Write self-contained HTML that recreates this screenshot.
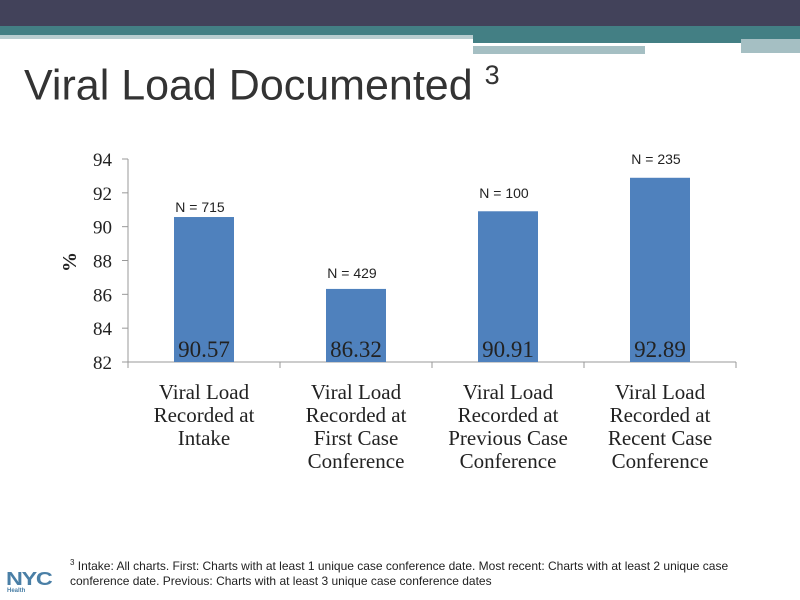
<!DOCTYPE html>
<html><head><meta charset="utf-8"><style>
body{margin:0;width:800px;height:600px;position:relative;background:#fff;overflow:hidden;font-family:"Liberation Sans",sans-serif}
.abs{position:absolute}
</style></head><body>
<div class="abs" style="left:0;top:0;width:800px;height:26px;background:#42425a"></div>
<div class="abs" style="left:0;top:26px;width:800px;height:9px;background:#437f84"></div>
<div class="abs" style="left:0;top:35px;width:473px;height:4px;background:#b9cdd0"></div>
<div class="abs" style="left:473px;top:35px;width:327px;height:8px;background:#437f84"></div>
<div class="abs" style="left:473px;top:46px;width:172px;height:8px;background:#a5bfc3"></div>
<div class="abs" style="left:741px;top:39px;width:59px;height:14px;background:#a5bfc3"></div>
<div class="abs" style="left:24px;top:60px;font-size:43px;color:#333">Viral Load Documented <sup style="font-size:27px">3</sup></div>
<svg class="abs" style="left:0;top:0" width="800" height="600">
<g id="g"></g>
</svg>
<div class="abs" style="left:70px;top:555px;width:700px;font-size:12px;line-height:15px;color:#222"><sup style="font-size:8px">3</sup> Intake: All charts. First: Charts with at least 1 unique case conference date. Most recent: Charts with at least 2 unique case conference date. Previous: Charts with at least 3 unique case conference dates</div>
<div class="abs" style="left:6px;top:569px;font:900 18px 'Liberation Sans',sans-serif;color:#4a7fa6;letter-spacing:-1px;transform:scaleX(1.3);transform-origin:left">NYC</div>
<div class="abs" style="left:7px;top:588px;font:bold 6px 'Liberation Sans',sans-serif;color:#4a7fa6">Health</div>
<script>
const categories=[["Viral Load","Recorded at","Intake"],["Viral Load","Recorded at","First Case","Conference"],["Viral Load","Recorded at","Previous Case","Conference"],["Viral Load","Recorded at","Recent Case","Conference"]];
const values=[90.57,86.32,90.91,92.89];
const nLabels=["N = 715","N = 429","N = 100","N = 235"];
const nValues=[90.87,86.96,91.69,93.7];
const ticks=[82,84,86,88,90,92,94];
const g=document.getElementById('g');const NS='http://www.w3.org/2000/svg';
const y=v=>362-(v-82)*(203/12);const x=i=>204+i*152;
function mk(t,a,txt){const e=document.createElementNS(NS,t);for(const k in a)e.setAttribute(k,a[k]);if(txt!=null)e.textContent=txt;g.appendChild(e);return e;}
let ax=mk('line',{x1:128,x2:128,y1:159,y2:362,stroke:'#999'});


let bx=mk('line',{x1:128,x2:736,y1:362,y2:362,stroke:'#999'});


ticks.forEach(t=>{mk('line',{x1:122,x2:128,y1:y(t),y2:y(t),stroke:'#999'});
let e=mk('text',{x:112,y:y(t)+7,'text-anchor':'end','font-size':19,'font-family':'Liberation Serif,serif',fill:'#222'},t);

});
for(let i=0;i<=4;i++)mk('line',{x1:128+i*152,x2:128+i*152,y1:362,y2:368,stroke:'#999'});
let yt=mk('text',{x:0,y:0,transform:'translate(76,262) rotate(-90)','text-anchor':'middle','font-size':20,'font-weight':'bold','font-family':'Liberation Serif,serif',fill:'#222'},'%');


values.forEach((v,i)=>{let r=mk('rect',{x:x(i)-30,y:y(v),width:60,height:362-y(v),fill:'#4f81bd'});


let t=mk('text',{x:x(i),y:357,'text-anchor':'middle','font-size':23,'font-family':'Liberation Serif,serif',fill:'#222'},v.toFixed(2));


let n=mk('text',{x:x(i)-4,y:y(nValues[i]),'text-anchor':'middle','font-size':14,fill:'#222'},nLabels[i]);


categories[i].forEach((l,j)=>{let c=mk('text',{x:x(i),y:399+j*23,'text-anchor':'middle','font-size':21,'font-family':'Liberation Serif,serif',fill:'#222'},l);

});});
</script>
</body></html>
